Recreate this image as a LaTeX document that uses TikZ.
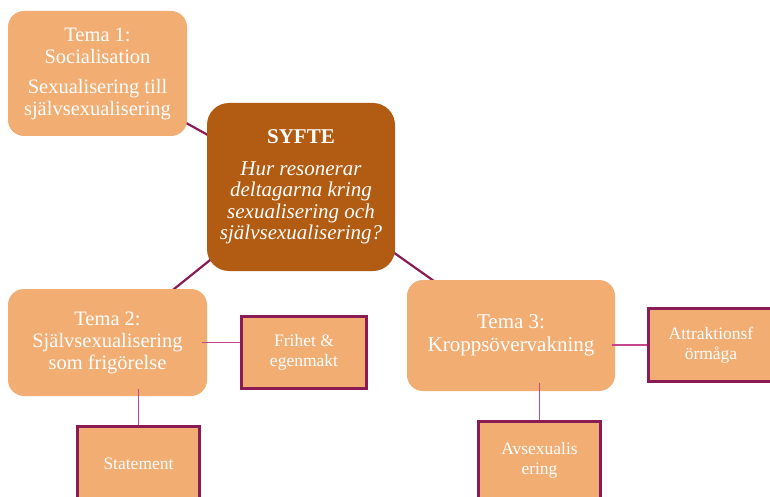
\documentclass[tikz,border=0pt]{standalone}
\usepackage{fontspec}
\setmainfont{Liberation Serif}
\usetikzlibrary{backgrounds,calc}
\definecolor{lightor}{HTML}{F2AD73}
\definecolor{syftecol}{HTML}{B25B12}
\definecolor{plum}{HTML}{8A1B55}
\definecolor{pinkline}{HTML}{C4478E}
\begin{document}
\begin{tikzpicture}[x=1pt,y=-1pt,
 tema/.style={fill=lightor, draw=none, rounded corners=16pt, text=white, align=center, inner sep=0pt, font=\fontsize{20.5}{22}\selectfont},
 leaf/.style={fill=lightor, draw=plum, line width=3pt, text=white, align=center, inner sep=0pt, font=\fontsize{17.5}{20}\selectfont},
 link/.style={draw=plum, line width=2.2pt},
 sublink/.style={draw=pinkline, line width=1.6pt}]
\useasboundingbox (0,0) rectangle (770,497);
\clip (0,0) rectangle (770,497);

\node[tema, minimum width=179pt, minimum height=125pt] (t1) at (97.5,73.5)
  {Tema 1:\\Socialisation\\[8pt]Sexualisering till\\självsexualisering};
\node[tema, fill=syftecol, rounded corners=22pt, minimum width=188pt, minimum height=168pt,
  font=\fontsize{21}{21.5}\selectfont] (sy) at (301,187)
  {\textbf{SYFTE}\\[10pt]\textit{Hur resonerar}\\\textit{deltagarna kring}\\\textit{sexualisering och}\\\textit{självsexualisering?}};
\node[tema, minimum width=199pt, minimum height=107pt] (t2) at (107.5,342.5)
  {Tema 2:\\Självsexualisering\\som frigörelse};
\node[tema, minimum width=208pt, minimum height=111pt, font=\fontsize{21}{23}\selectfont] (t3) at (511,335.5)
  {Tema 3:\\Kroppsövervakning};

\node[leaf, minimum width=125pt, minimum height=72pt] (fr) at (304,352.5) {Frihet \&\\egenmakt};
\node[leaf, minimum width=122pt, minimum height=75pt] (st) at (138.5,464) {Statement};
\node[leaf, minimum width=125pt, minimum height=73pt] (at) at (711,345) {Attraktionsf\\örmåga};
\node[leaf, minimum width=122pt, minimum height=77pt] (av) at (539.5,460) {Avsexualis\\ering};

\begin{scope}[on background layer]
\fill[white] (0,0) rectangle (770,497);
\draw[link] (t1.center) -- (sy.center);
\draw[link] (sy.center) -- (t2.center);
\draw[link] (sy.center) -- (t3.center);
\end{scope}

\draw[sublink] ($(t2.east)+(-5,0)$) -- (t2.east -| fr.west);
\draw[sublink] ($(at.west -| t3.east)+(-3,0)$) -- (at.west);
\draw[sublink] ($(t2.south -| st.north)+(0,-7)$) -- (st.north);
\draw[sublink] ($(t3.south -| av.north)+(0,-8)$) -- (av.north);
\end{tikzpicture}
\end{document}
